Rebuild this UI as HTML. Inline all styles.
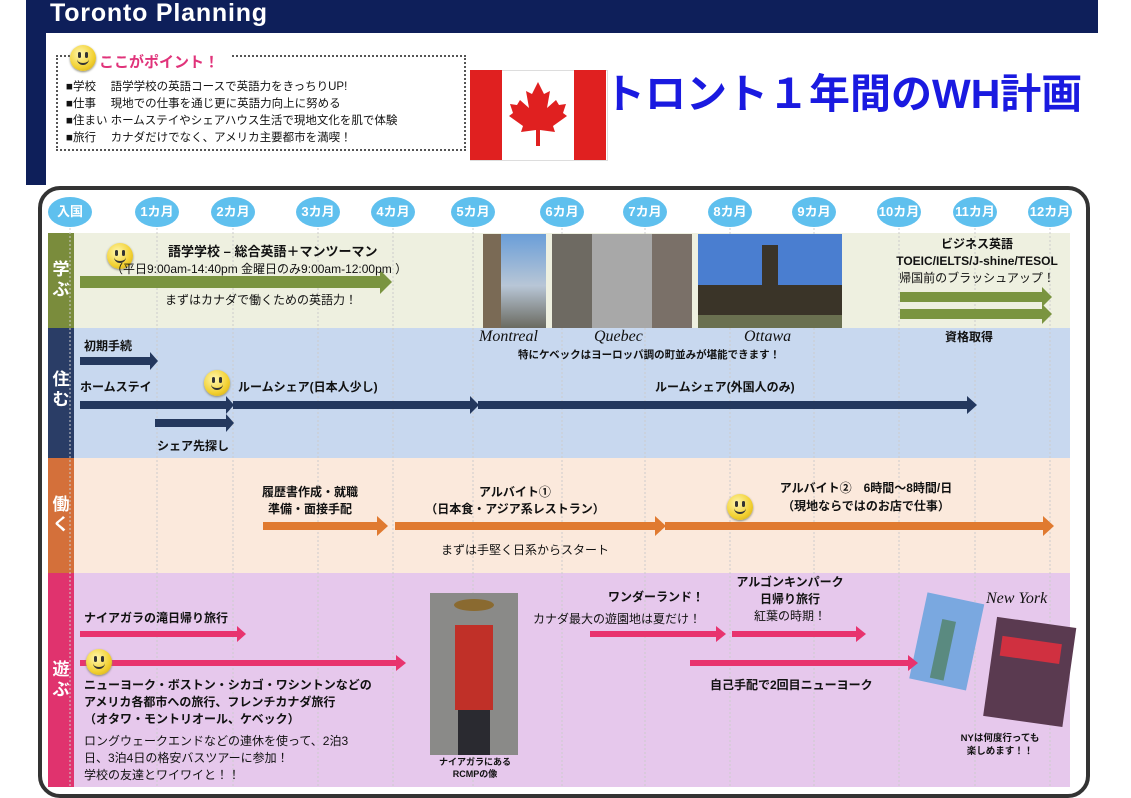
<!DOCTYPE html>
<html><head><meta charset="utf-8"><style>
body{margin:0;width:1131px;height:796px;background:#fff;position:relative;overflow:hidden;font-family:"Liberation Sans","Noto Sans CJK JP",sans-serif;}
.a{position:absolute;}
.t{position:absolute;font-size:12px;color:#111;white-space:nowrap;}
.b{font-weight:bold;}
.c{text-align:center;}
.m{position:absolute;top:197px;width:44px;height:30px;border-radius:50%;background:#5fc0ee;color:#fff;font-weight:bold;font-size:13px;line-height:30px;text-align:center;}
.lbl{position:absolute;left:48px;width:26px;color:#fff;font-weight:bold;font-size:17px;text-align:center;line-height:20px;}
.smile{position:absolute;width:26px;height:26px;border-radius:50%;background:radial-gradient(circle at 40% 35%,#fff7b0,#f2d030 60%,#c8a010);box-shadow:0 1px 2px #887;}
.smile:before{content:"";position:absolute;left:8px;top:7px;width:3px;height:6px;background:#333;border-radius:2px;box-shadow:7px 0 0 #333;}
.smile:after{content:"";position:absolute;left:7px;top:13px;width:12px;height:5px;border-bottom:2px solid #333;border-radius:0 0 8px 8px;}
</style></head><body>
<div class="a" style="left:26px;top:0;width:1072px;height:33px;background:#0e1f5a;"></div>
<div class="a" style="left:26px;top:0;width:20px;height:185px;background:#0e1f5a;"></div>
<div class="t b" style="left:50px;top:-1px;font-size:25px;letter-spacing:0.8px;color:#fff;">Toronto Planning</div>

<div class="a" style="left:56px;top:55px;width:406px;height:92px;border:2px dotted #555;"></div>
<div class="a" style="left:90px;top:50px;width:140px;height:20px;background:#fff;"></div>
<div class="smile" style="left:70px;top:45px;"></div>
<div class="t b" style="left:99px;top:51px;font-size:15px;color:#e0337a;">ここがポイント！</div>
<div class="t" style="left:66px;top:79px;line-height:17px;font-size:11.5px;">■学校　 語学学校の英語コースで英語力をきっちりUP!<br>■仕事　 現地での仕事を通じ更に英語力向上に努める<br>■住まい ホームステイやシェアハウス生活で現地文化を肌で体験<br>■旅行　 カナダだけでなく、アメリカ主要都市を満喫！</div>

<div class="a" style="left:470px;top:70px;width:136px;height:89px;background:#fff;border:1px solid #ddd;"></div>
<div class="a" style="left:470px;top:70px;width:32px;height:90px;background:#e02020;"></div>
<div class="a" style="left:574px;top:70px;width:32px;height:90px;background:#e02020;"></div>
<svg class="a" style="left:508px;top:80px" width="60" height="70" viewBox="0 0 60 70"><path fill="#e02020" d="M30 2L36 14L42 11L39 28L48 20L51 25L58 24L55 33L59 36L45 46L47 52L32 50L32 66H28L28 50L13 52L15 46L1 36L5 33L2 24L9 25L12 20L21 28L18 11L24 14Z"/></svg>
<div class="t b" style="left:604px;top:60px;font-size:41px;color:#1a1ae0;">トロント１年間のWH計画</div>

<div class="a" style="left:38px;top:186px;width:1044px;height:604px;border:4px solid #333;border-radius:22px;"></div>
<div class="a" style="left:48px;top:233px;width:1022px;height:95px;background:#eef0e0;"></div>
<div class="a" style="left:48px;top:328px;width:1022px;height:130px;background:#c8d8ef;"></div>
<div class="a" style="left:48px;top:458px;width:1022px;height:115px;background:#fbe9dc;"></div>
<div class="a" style="left:48px;top:573px;width:1022px;height:214px;background:#e6c8ec;"></div>
<div class="a" style="left:48px;top:233px;width:26px;height:95px;background:#7a8c3c;"></div>
<div class="a" style="left:48px;top:328px;width:26px;height:130px;background:#2a3d66;"></div>
<div class="a" style="left:48px;top:458px;width:26px;height:115px;background:#d4703a;"></div>
<div class="a" style="left:48px;top:573px;width:26px;height:214px;background:#e0336e;"></div>
<div class="lbl" style="top:260px;">学<br>ぶ</div>
<div class="lbl" style="top:370px;">住<br>む</div>
<div class="lbl" style="top:495px;">働<br>く</div>
<div class="lbl" style="top:660px;">遊<br>ぶ</div>

<svg class="a" style="left:0;top:0" width="1131" height="796">
<g stroke="#ccc" stroke-width="1" stroke-dasharray="2,2">
<line x1="70" y1="228" x2="70" y2="787"/><line x1="157" y1="228" x2="157" y2="787"/><line x1="233" y1="228" x2="233" y2="787"/><line x1="318" y1="228" x2="318" y2="787"/><line x1="393" y1="228" x2="393" y2="787"/><line x1="473" y1="228" x2="473" y2="787"/><line x1="562" y1="228" x2="562" y2="787"/><line x1="645" y1="228" x2="645" y2="787"/><line x1="730" y1="228" x2="730" y2="787"/><line x1="814" y1="228" x2="814" y2="787"/><line x1="899" y1="228" x2="899" y2="787"/><line x1="975" y1="228" x2="975" y2="787"/><line x1="1050" y1="228" x2="1050" y2="787"/>
</g>
<defs>
<linearGradient id="sky" x1="0" y1="0" x2="0" y2="1"><stop offset="0" stop-color="#6a9ed8"/><stop offset="0.55" stop-color="#b8c6d6"/><stop offset="1" stop-color="#6a6a60"/></linearGradient>
</defs>
<rect x="483" y="234" width="63" height="94" fill="url(#sky)"/>
<rect x="483" y="234" width="18" height="94" fill="#7a6a55"/>
<rect x="552" y="234" width="140" height="94" fill="#a8a8a8"/>
<rect x="552" y="234" width="40" height="94" fill="#6e6a62"/><rect x="652" y="234" width="40" height="94" fill="#7a7068"/>
<rect x="698" y="234" width="144" height="94" fill="#4a7ed0"/>
<rect x="698" y="285" width="144" height="30" fill="#3a3428"/><rect x="762" y="245" width="16" height="55" fill="#3a3428"/>
<rect x="698" y="315" width="144" height="13" fill="#6a7050"/>
<rect x="430" y="593" width="88" height="162" fill="#8a8a88"/>
<rect x="455" y="625" width="38" height="85" fill="#c03028"/><rect x="458" y="710" width="32" height="45" fill="#2a2a30"/>
<ellipse cx="474" cy="605" rx="20" ry="6" fill="#8a6a30"/>
<g transform="rotate(12 945 640)"><rect x="918" y="597" width="58" height="88" fill="#7aa8e0"/><rect x="938" y="620" width="14" height="60" fill="#5a8a80"/></g>
<g transform="rotate(8 1030 670)"><rect x="990" y="622" width="80" height="100" fill="#5a3a50"/><rect x="998" y="640" width="60" height="20" fill="#d03040"/></g>
<g fill="#7a9440">
<path d="M80 276H380V270L392 282L380 294V288H80Z"/>
<path d="M900 292H1042V287L1052 297L1042 307V302H900Z"/>
<path d="M900 309H1042V304L1052 314L1042 324V319H900Z"/>
</g>
<g fill="#24385e">
<path d="M80 357H150V352L158 361L150 370V365H80Z"/>
<path d="M80 401H226V396L234 405L226 414V409H80Z"/>
<path d="M155 419H226V414L234 423L226 432V427H155Z"/>
<path d="M233 401H470V396L479 405L470 414V409H233Z"/>
<path d="M478 401H967V396L977 405L967 414V409H478Z"/>
</g>
<g fill="#e07a30">
<path d="M263 522H377V516L388 526L377 536V530H263Z"/>
<path d="M395 522H655V516L666 526L655 536V530H395Z"/>
<path d="M665 522H1043V516L1054 526L1043 536V530H665Z"/>
</g>
<g fill="#e8336e">
<path d="M80 631H237V626L246 634L237 642V637H80Z"/>
<path d="M80 660H396V655L406 663L396 671V666H80Z"/>
<path d="M590 631H716V626L726 634L716 642V637H590Z"/>
<path d="M732 631H856V626L866 634L856 642V637H732Z"/>
<path d="M690 660H908V655L918 663L908 671V666H690Z"/>
</g>
</svg>

<div class="m" style="left:48px;">入国</div><div class="m" style="left:135px;">1カ月</div><div class="m" style="left:211px;">2カ月</div><div class="m" style="left:296px;">3カ月</div><div class="m" style="left:371px;">4カ月</div><div class="m" style="left:451px;">5カ月</div><div class="m" style="left:540px;">6カ月</div><div class="m" style="left:623px;">7カ月</div><div class="m" style="left:708px;">8カ月</div><div class="m" style="left:792px;">9カ月</div><div class="m" style="left:877px;">10カ月</div><div class="m" style="left:953px;">11カ月</div><div class="m" style="left:1028px;">12カ月</div>

<div class="smile" style="left:107px;top:243px;"></div>
<div class="t b" style="left:168px;top:241px;font-size:13px;">語学学校 – 総合英語＋マンツーマン</div>
<div class="t" style="left:111px;top:260px;">（平日9:00am-14:40pm 金曜日のみ9:00am-12:00pm ）</div>
<div class="t" style="left:165px;top:291px;">まずはカナダで働くための英語力！</div>
<div class="t b c" style="left:862px;top:236px;width:230px;line-height:17px;">ビジネス英語<br>TOEIC/IELTS/J-shine/TESOL<br><span style="font-weight:normal">帰国前のブラッシュアップ！</span></div>
<div class="t b" style="left:945px;top:328px;">資格取得</div>
<div class="t" style="left:479px;top:328px;font-family:'Liberation Serif',serif;font-style:italic;font-size:16px;">Montreal</div>
<div class="t" style="left:594px;top:328px;font-family:'Liberation Serif',serif;font-style:italic;font-size:16px;">Quebec</div>
<div class="t" style="left:744px;top:328px;font-family:'Liberation Serif',serif;font-style:italic;font-size:16px;">Ottawa</div>
<div class="t b" style="left:518px;top:347px;font-size:10.5px;">特にケベックはヨーロッパ調の町並みが堪能できます！</div>
<div class="t b" style="left:84px;top:337px;">初期手続</div>
<div class="t b" style="left:80px;top:378px;">ホームステイ</div>
<div class="smile" style="left:204px;top:370px;"></div>
<div class="t b" style="left:238px;top:378px;">ルームシェア(日本人少し)</div>
<div class="t b" style="left:655px;top:378px;">ルームシェア(外国人のみ)</div>
<div class="t b" style="left:157px;top:437px;">シェア先探し</div>
<div class="t b c" style="left:250px;top:484px;width:120px;line-height:17px;">履歴書作成・就職<br>準備・面接手配</div>
<div class="t b c" style="left:420px;top:484px;width:190px;line-height:17px;">アルバイト①<br>（日本食・アジア系レストラン）</div>
<div class="t" style="left:441px;top:541px;">まずは手堅く日系からスタート</div>
<div class="smile" style="left:727px;top:494px;"></div>
<div class="t b c" style="left:756px;top:479px;width:220px;line-height:18px;">アルバイト②　6時間～8時間/日<br>（現地ならではのお店で仕事）</div>
<div class="t b" style="left:84px;top:609px;">ナイアガラの滝日帰り旅行</div>
<div class="smile" style="left:86px;top:649px;"></div>
<div class="t b" style="left:84px;top:677px;line-height:17px;">ニューヨーク・ボストン・シカゴ・ワシントンなどの<br>アメリカ各都市への旅行、フレンチカナダ旅行<br>（オタワ・モントリオール、ケベック）</div>
<div class="t" style="left:84px;top:733px;line-height:17px;">ロングウェークエンドなどの連休を使って、2泊3<br>日、3泊4日の格安バスツアーに参加！<br>学校の友達とワイワイと！！</div>
<div class="t b c" style="left:420px;top:756px;width:110px;font-size:9px;line-height:12px;">ナイアガラにある<br>RCMPの像</div>
<div class="t b" style="left:608px;top:588px;">ワンダーランド！</div>
<div class="t" style="left:533px;top:610px;">カナダ最大の遊園地は夏だけ！</div>
<div class="t b c" style="left:720px;top:574px;width:140px;line-height:17px;">アルゴンキンパーク<br>日帰り旅行<br><span style="font-weight:normal">紅葉の時期！</span></div>
<div class="t b" style="left:710px;top:676px;">自己手配で2回目ニューヨーク</div>
<div class="t" style="left:986px;top:590px;font-family:'Liberation Serif',serif;font-style:italic;font-size:16px;">New York</div>
<div class="t b c" style="left:945px;top:732px;width:110px;font-size:9.5px;line-height:13px;">NYは何度行っても<br>楽しめます！！</div>
</body></html>
